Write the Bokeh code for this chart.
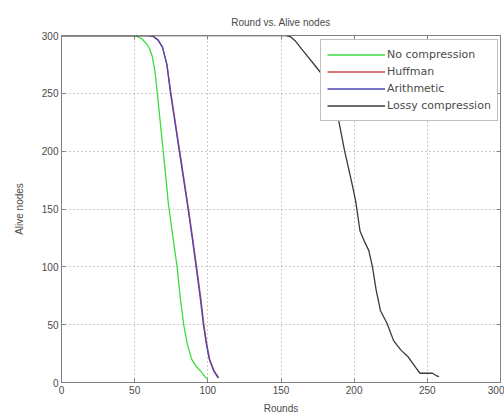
from bokeh.plotting import figure
from bokeh.models import Range1d, LinearAxis, Legend, LegendItem, FixedTicker
from bokeh.embed import file_html
from bokeh.resources import INLINE

# ---- data ----
x_ticks = [0, 50, 100, 150, 200, 250, 300]
y_ticks = [0, 50, 100, 150, 200, 250, 300]

nocomp_rounds = [0, 49, 52, 55, 58, 60, 62, 64, 65.5, 67.5, 69.5, 71.5, 73, 76, 79, 81, 83.5, 86, 89, 92, 95, 98, 100]
nocomp_alive = [300, 300, 299, 297, 293, 289, 282, 268, 250, 225, 200, 175, 155, 127, 100, 75, 50, 33, 20, 14, 10, 5, 3]

huff_rounds = [0, 60, 63, 66, 69, 72, 74.8, 77.8, 80.8, 83.8, 86.8, 89.6, 92.3, 95, 97.3, 99.3, 101.3, 104.3, 107.5]
huff_alive = [300, 300, 299, 296, 290, 275, 250, 225, 200, 175, 150, 125, 100, 75, 50, 33, 20, 10, 4]

arith_rounds = [0, 60, 63, 66, 69, 72, 74.5, 77.5, 80.5, 83.5, 86.5, 89.3, 92, 94.6, 97, 99, 101, 104, 107]
arith_alive = [300, 300, 299, 296, 290, 275, 250, 225, 200, 175, 150, 125, 100, 75, 50, 33, 20, 10, 4]

lossy_rounds = [0, 150, 153, 156.5, 160, 165, 172, 177, 180, 185, 189.5, 193.5, 198, 201, 204, 207, 210, 212.5, 215, 218,
                222.5, 227, 232, 237, 242, 245, 250, 253.5, 256, 258]
lossy_alive = [300, 300, 300, 299, 295, 287, 276, 268, 258, 245, 226, 200, 175, 157, 131, 122, 114, 100, 80, 62,
               51, 36, 28, 22, 13, 8, 8, 8, 6, 5]

names = ["No compression", "Huffman", "Arithmetic", "Lossy compression"]
colors = ["#3ddc3d", "#d24848", "#4a46b4", "#3a3a3a"]

FONT = "Liberation Sans"
TXT = "#4a4a4a"

p = figure(frame_width=439, frame_height=347, output_backend="svg", toolbar_location=None,
           x_range=Range1d(0, 300), y_range=Range1d(0, 300),
           min_border_left=61, min_border_right=4, min_border_top=35, min_border_bottom=35,
           background_fill_color="white", border_fill_color="white")

p.title.text = "Round vs. Alive nodes"
p.title.align = "center"
p.title.text_font = FONT
p.title.text_font_size = "10px"
p.title.text_font_style = "normal"
p.title.text_color = TXT
p.title.offset = 0
p.title.standoff = 15

p.outline_line_color = "#808080"
p.outline_line_width = 1

for ax in (p.xaxis[0], p.yaxis[0]):
    ax.axis_line_color = "#808080"
    ax.major_tick_line_color = "#808080"
    ax.major_tick_in = 4
    ax.major_tick_out = 0
    ax.minor_tick_line_color = None
    ax.major_label_text_font = FONT
    ax.major_label_text_font_size = "10px"
    ax.major_label_text_color = TXT
    ax.axis_label_text_font = FONT
    ax.axis_label_text_font_size = "10px"
    ax.axis_label_text_font_style = "normal"
    ax.axis_label_text_color = TXT
    ax.major_label_standoff = 3

p.xaxis.ticker = FixedTicker(ticks=x_ticks)
p.yaxis.ticker = FixedTicker(ticks=y_ticks)
p.xaxis.axis_label = "Rounds"
p.yaxis.axis_label = "Alive nodes"
p.xaxis.axis_label_standoff = 6
p.yaxis.axis_label_standoff = 14

# top and right tick marks (no labels)
for loc in ("above", "right"):
    ax = LinearAxis(ticker=FixedTicker(ticks=x_ticks if loc == "above" else y_ticks))
    ax.axis_line_color = "#808080"
    ax.major_tick_line_color = "#808080"
    ax.major_tick_in = 4
    ax.major_tick_out = 0
    ax.minor_tick_line_color = None
    ax.major_label_text_font_size = "0px"
    ax.major_label_standoff = 0
    ax.major_label_text_alpha = 0
    p.add_layout(ax, loc)

p.xgrid.ticker = FixedTicker(ticks=x_ticks)
p.ygrid.ticker = FixedTicker(ticks=y_ticks)
for g in (p.xgrid[0], p.ygrid[0]):
    g.grid_line_color = "#9a9a9a"
    g.grid_line_dash = "1 3"
    g.grid_line_width = 1

series = [(nocomp_rounds, nocomp_alive), (huff_rounds, huff_alive),
          (arith_rounds, arith_alive), (lossy_rounds, lossy_alive)]
renderers = []
for (xs, ys), c in zip(series, colors):
    r = p.line(xs, ys, line_color=c, line_width=1.3)
    renderers.append(r)

legend = Legend(items=[LegendItem(label=n, renderers=[r]) for n, r in zip(names, renderers)],
                location=(259, 261))
legend.border_line_color = "#808080"
legend.border_line_width = 1
legend.background_fill_color = "white"
legend.background_fill_alpha = 1
legend.label_text_font = "DejaVu Sans"
legend.label_text_font_size = "11px"
legend.label_text_color = TXT
legend.glyph_width = 58
legend.glyph_height = 17
legend.label_height = 17
legend.label_standoff = 2
legend.spacing = 0
legend.padding = 6
legend.margin = 0
p.add_layout(legend, "center")

open("out.html", "w").write(file_html(p, INLINE))
